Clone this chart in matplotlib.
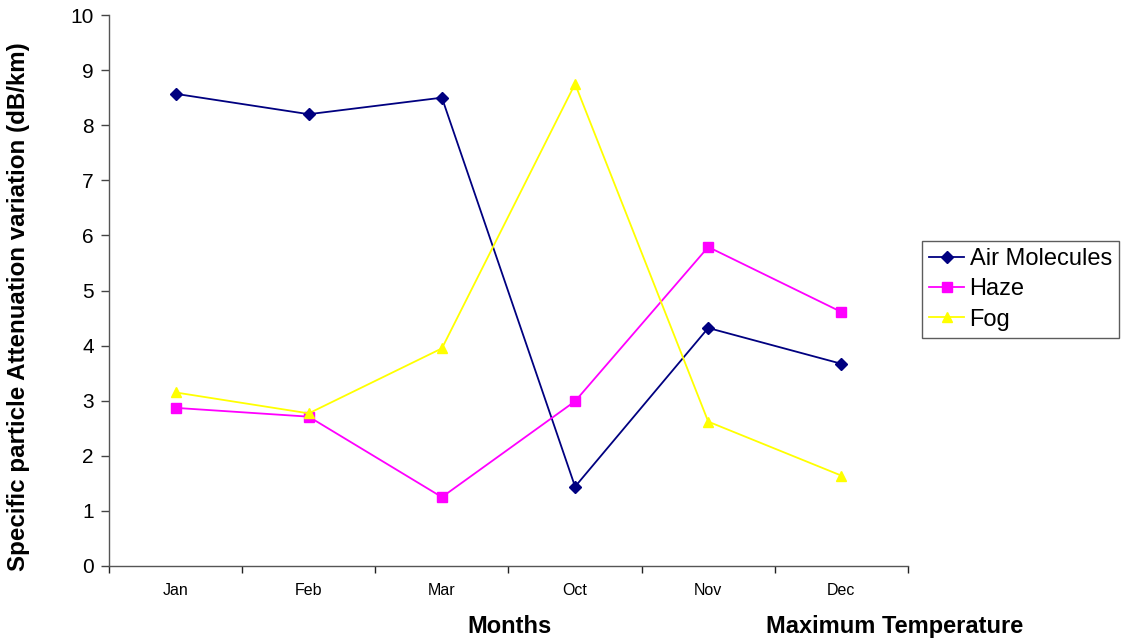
import matplotlib.pyplot as plt
import numpy as np

months = ['Jan', 'Feb', 'Mar', 'Oct', 'Nov', 'Dec']
air_molecules = [8.57, 8.20, 8.50, 1.44, 4.32, 3.67]
haze = [2.87, 2.71, 1.25, 2.99, 5.79, 4.61]
fog = [3.15, 2.77, 3.95, 8.75, 2.62, 1.64]

plt.rcParams['font.family'] = ['Liberation Sans', 'DejaVu Sans']

fig = plt.figure(figsize=(11.33, 6.42), dpi=100)
ax = fig.add_axes([0.0962, 0.1184, 0.7052, 0.8582])

x = np.arange(len(months))
ax.plot(x, air_molecules, color='#000080', lw=1.3, marker='D', ms=6, label='Air Molecules')
ax.plot(x, haze, color='#FF00FF', lw=1.3, marker='s', ms=7, label='Haze')
ax.plot(x, fog, color='#FFFF00', lw=1.3, marker='^', ms=7, label='Fog')

ax.set_xlim(-0.5, len(months) - 0.5)
ax.set_ylim(0, 10)
ax.set_yticks(range(0, 11))
ax.tick_params(axis='y', labelsize=15, direction='out', length=6, width=1,
               color='#444444', pad=5)

# category labels centred, tick marks on the boundaries
ax.set_xticks(x)
ax.set_xticklabels(months, fontsize=11.5)
ax.set_xticks(np.arange(-0.5, len(months)), minor=True)
ax.tick_params(axis='x', which='major', length=0, pad=12)
ax.tick_params(axis='x', which='minor', direction='out', length=5, width=1, color='#222222')

for side in ['top', 'right']:
    ax.spines[side].set_visible(False)
for side in ['left', 'bottom']:
    ax.spines[side].set_color('#555555')
    ax.spines[side].set_linewidth(1.0)

fig.text(0.016, 0.523, 'Specific particle Attenuation variation (dB/km)', fontsize=17.4,
         fontweight='bold', rotation=90, ha='center', va='center')

fig.text(0.450, 0.014, 'Months', fontsize=17, fontweight='bold', ha='center')
fig.text(0.790, 0.014, 'Maximum Temperature', fontsize=17, fontweight='bold', ha='center')

leg = ax.legend(loc='center left', bbox_to_anchor=(1.018, 0.502), fontsize=17,
                frameon=True, fancybox=False, edgecolor='#333333',
                handlelength=1.45, handletextpad=0.25, borderpad=0.3,
                labelspacing=0.35, borderaxespad=0)
leg.get_frame().set_linewidth(1.0)

fig.savefig('out.png', dpi=100)
